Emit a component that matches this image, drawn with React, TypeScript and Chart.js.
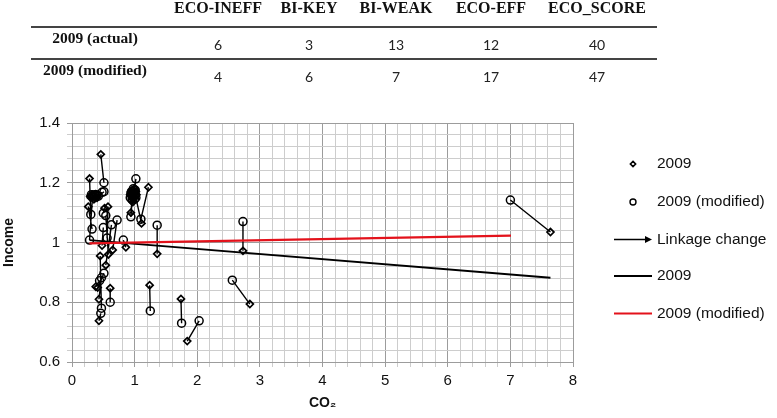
import React, { useEffect, useRef } from "react";
import { Chart, registerables } from "chart.js";

Chart.register(...registerables);

// Summary table
const tableColumns = ["ECO-INEFF", "BI-KEY", "BI-WEAK", "ECO-EFF", "ECO_SCORE"];
const tableRowLabels = ["2009 (actual)", "2009 (modified)"];
const actualCounts = [6, 3, 13, 12, 40];
const modifiedCounts = [4, 6, 7, 17, 47];

// Country positions: 2009 (actual) and 2009 (modified), index-matched pairs
const co2Actual = [
  0.46, 0.28, 0.26, 0.33, 0.575, 0.58, 0.48, 0.65, 0.86, 0.54,
  0.41, 0.43, 0.43, 0.61, 0.45, 0.38, 0.30, 0.38, 0.35, 0.40,
  0.52, 1.22, 1.11, 0.94, 0.97, 1.00, 0.93, 0.99, 0.96, 1.03,
  0.97, 1.36, 1.24, 1.74, 1.84, 2.73, 2.84, 7.64,
  0.95, 1.00, 0.96, 1.02, 0.98, 0.95, 0.32, 0.37, 0.29,
];
const incomeActual = [
  1.295, 1.214, 1.12, 1.158, 1.12, 0.96, 0.99, 0.975, 0.984, 0.924,
  0.849, 0.81, 0.738, 0.847, 0.955, 0.852, 1.15, 1.162, 1.145, 1.15,
  1.115, 1.185, 1.064, 1.1, 1.165, 1.18, 1.16, 1.15, 1.15, 1.16,
  1.135, 0.962, 0.857, 0.811, 0.67, 0.972, 0.794, 1.035,
  1.155, 1.165, 1.175, 1.17, 1.16, 1.14, 1.16, 1.15, 1.155,
];
const co2Modified = [
  0.51, 0.30, 0.32, 0.28, 0.56, 0.54, 0.50, 0.72, 0.82, 0.63,
  0.51, 0.47, 0.46, 0.61, 0.47, 0.44, 0.36, 0.42, 0.48, 0.51,
  0.50, 1.10, 1.02, 0.96, 0.94, 1.02, 0.95, 1.01, 0.98, 1.00,
  0.93, 1.36, 1.25, 1.75, 2.03, 2.73, 2.56, 7.00,
  0.97, 0.99, 0.94, 1.01, 1.00, 0.98, 0.34, 0.39, 0.31,
];
const incomeModified = [
  1.2, 1.094, 1.045, 1.008, 1.015, 1.09, 1.05, 1.075, 1.008, 1.059,
  0.897, 0.882, 0.763, 0.8, 0.78, 0.872, 1.16, 1.155, 1.168, 1.17,
  1.098, 1.078, 1.15, 1.145, 1.086, 1.213, 1.17, 1.175, 1.18, 1.145,
  1.15, 1.058, 0.771, 0.73, 0.738, 1.07, 0.874, 1.142,
  1.17, 1.155, 1.165, 1.16, 1.175, 1.15, 1.155, 1.16, 1.16,
];

// Fitted relationships
const trendActualCo2 = [0.28, 7.64];
const trendActualIncome = [1.008, 0.882];
const trendModifiedCo2 = [0.28, 7.01];
const trendModifiedIncome = [0.997, 1.023];

// Axis ranges
const xRange = [0, 8];
const yRange = [0.6, 1.4];

const SANS = '"Liberation Sans", Arial, Helvetica, sans-serif';
const SERIF = '"Liberation Serif", "Times New Roman", Times, serif';
const MAJOR_GRID = "#9c9c9c";
const MINOR_GRID = "#cdcdcd";

const isMajor = (v: number, step: number) =>
  Math.abs(v / step - Math.round(v / step)) < 1e-6;

const zip = (xs: number[], ys: number[]) => xs.map((x, i) => ({ x, y: ys[i] }));

// Segments joining each actual point to its modified counterpart
const linkageSegments = co2Actual.flatMap((x, i) => [
  { x, y: incomeActual[i] },
  { x: co2Modified[i], y: incomeModified[i] },
  { x: co2Modified[i], y: null as any },
]);

function drawDiamond(ctx: CanvasRenderingContext2D, x: number, y: number, r: number) {
  ctx.beginPath();
  ctx.moveTo(x, y - r);
  ctx.lineTo(x + r, y);
  ctx.lineTo(x, y + r);
  ctx.lineTo(x - r, y);
  ctx.closePath();
  ctx.lineWidth = 1.6;
  ctx.strokeStyle = "#000";
  ctx.stroke();
}

const sideLegend = {
  id: "sideLegend",
  afterDraw(chart: any) {
    const ctx: CanvasRenderingContext2D = chart.ctx;
    const rowsY = [164, 202, 239.5, 276, 313.5];
    const x0 = 614;
    const x1 = 652;
    const mid = 633;
    ctx.save();
    chart.data.datasets.forEach((ds: any, i: number) => {
      const y = rowsY[i];
      if (ds.legendKind === "diamond") {
        drawDiamond(ctx, mid, y, 2.6);
      } else if (ds.legendKind === "circle") {
        ctx.beginPath();
        ctx.arc(mid, y, 3, 0, Math.PI * 2);
        ctx.lineWidth = 1.4;
        ctx.strokeStyle = "#000";
        ctx.stroke();
      } else if (ds.legendKind === "arrow") {
        ctx.beginPath();
        ctx.moveTo(x0, y);
        ctx.lineTo(x1 - 5, y);
        ctx.lineWidth = 1.5;
        ctx.strokeStyle = "#000";
        ctx.stroke();
        ctx.beginPath();
        ctx.moveTo(x1, y);
        ctx.lineTo(x1 - 7, y - 3.5);
        ctx.lineTo(x1 - 7, y + 3.5);
        ctx.closePath();
        ctx.fillStyle = "#000";
        ctx.fill();
      } else {
        ctx.beginPath();
        ctx.moveTo(x0, y);
        ctx.lineTo(x1, y);
        ctx.lineWidth = ds.borderWidth;
        ctx.strokeStyle = ds.borderColor;
        ctx.stroke();
      }
      ctx.font = `15.5px ${SANS}`;
      ctx.fillStyle = "#111";
      ctx.textAlign = "left";
      ctx.textBaseline = "middle";
      ctx.fillText(ds.label, 657, y);
    });
    ctx.restore();
  },
};

const colX = [218, 309, 396, 491, 597];
const rowLabelX = 95;

const cell = (left: number, top: number, extra: React.CSSProperties): React.CSSProperties => ({
  position: "absolute",
  left,
  top,
  transform: "translate(-50%, -50%)",
  whiteSpace: "nowrap",
  lineHeight: 1,
  ...extra,
});

const headStyle: React.CSSProperties = {
  fontFamily: SERIF,
  fontWeight: "bold",
  fontSize: 16,
  color: "#111",
};
const rowHeadStyle: React.CSSProperties = {
  ...headStyle,
  fontSize: 15.5,
};
const valueStyle: React.CSSProperties = {
  fontFamily: 'Lato, "Liberation Sans", sans-serif',
  fontSize: 14,
  color: "#222",
};
const ruleStyle = (top: number): React.CSSProperties => ({
  position: "absolute",
  left: 31,
  width: 626,
  top,
  height: 1.5,
  background: "#444",
});

export default function App() {
  const canvasRef = useRef<HTMLCanvasElement>(null);

  useEffect(() => {
    document.body.style.margin = "0";
    const canvas = canvasRef.current;
    if (!canvas) return;

    const chart = new Chart(canvas, {
      type: "scatter",
      data: {
        datasets: [
          {
            label: "2009",
            legendKind: "diamond",
            data: zip(co2Actual, incomeActual),
            pointStyle: "rectRot",
            pointRadius: 3.5,
            pointBorderWidth: 1.7,
            pointBorderColor: "#000",
            pointBackgroundColor: "rgba(255,255,255,0)",
            showLine: false,
            order: 4,
          } as any,
          {
            label: "2009 (modified)",
            legendKind: "circle",
            data: zip(co2Modified, incomeModified),
            pointStyle: "circle",
            pointRadius: 4,
            pointBorderWidth: 1.5,
            pointBorderColor: "#000",
            pointBackgroundColor: "rgba(255,255,255,0)",
            showLine: false,
            order: 3,
          } as any,
          {
            label: "Linkage change",
            legendKind: "arrow",
            data: linkageSegments,
            showLine: true,
            spanGaps: false,
            pointRadius: 0,
            borderColor: "#000",
            borderWidth: 1.4,
            order: 5,
          } as any,
          {
            label: "2009",
            legendKind: "line",
            data: zip(trendActualCo2, trendActualIncome),
            showLine: true,
            pointRadius: 0,
            borderColor: "#000",
            borderWidth: 1.8,
            order: 2,
          } as any,
          {
            label: "2009 (modified)",
            legendKind: "line",
            data: zip(trendModifiedCo2, trendModifiedIncome),
            showLine: true,
            pointRadius: 0,
            borderColor: "#e3121b",
            borderWidth: 2.2,
            order: 1,
          } as any,
        ],
      },
      options: {
        responsive: false,
        animation: false,
        events: [],
        layout: { padding: { left: 0, top: 123, right: 204, bottom: 0 } },
        plugins: {
          legend: { display: false },
          tooltip: { enabled: false },
        },
        scales: {
          x: {
            type: "linear",
            min: xRange[0],
            max: xRange[1],
            afterFit: (scale: any) => {
              scale.height = 56;
            },
            ticks: {
              stepSize: 0.2,
              maxTicksLimit: 1000,
              autoSkip: false,
              maxRotation: 0,
              padding: 5,
              color: "#111",
              font: { family: SANS, size: 15 },
              callback: (v: any) => (isMajor(Number(v), 1) ? String(Math.round(Number(v))) : ""),
            },
            grid: {
              color: (c: any) => (c.tick && isMajor(c.tick.value, 1) ? MAJOR_GRID : MINOR_GRID),
              lineWidth: 1,
              tickLength: 5,
            },
            border: { color: MAJOR_GRID, width: 1 },
            title: {
              display: true,
              text: "CO₂",
              color: "#111",
              font: { family: SANS, size: 14, weight: "bold" },
              padding: { top: 0, bottom: 6 },
            },
          },
          y: {
            type: "linear",
            min: yRange[0],
            max: yRange[1],
            afterFit: (scale: any) => {
              scale.width = 72;
            },
            ticks: {
              stepSize: 0.04,
              maxTicksLimit: 1000,
              autoSkip: false,
              padding: 7,
              color: "#111",
              font: { family: SANS, size: 15 },
              callback: (v: any) =>
                isMajor(Number(v), 0.2) ? String(Math.round(Number(v) * 10) / 10) : "",
            },
            grid: {
              color: (c: any) => (c.tick && isMajor(c.tick.value, 0.2) ? MAJOR_GRID : MINOR_GRID),
              lineWidth: 1,
              tickLength: 5,
            },
            border: { color: MAJOR_GRID, width: 1 },
            title: {
              display: true,
              text: "Income",
              color: "#111",
              font: { family: SANS, size: 14, weight: "bold" },
              padding: { top: 1, bottom: 0 },
            },
          },
        },
      },
      plugins: [sideLegend],
    } as any);

    return () => chart.destroy();
  }, []);

  return (
    <div style={{ position: "relative", width: 777, height: 418, background: "#fff", overflow: "hidden" }}>
      <canvas
        ref={canvasRef}
        width={777}
        height={418}
        style={{ position: "absolute", left: 0, top: 0, width: 777, height: 418 }}
      />
      {tableColumns.map((c, i) => (
        <span key={"h" + i} style={cell(colX[i], 8, headStyle)}>
          {c}
        </span>
      ))}
      <div style={ruleStyle(26)} />
      <span style={cell(rowLabelX, 38, rowHeadStyle)}>{tableRowLabels[0]}</span>
      {actualCounts.map((v, i) => (
        <span key={"a" + i} style={cell(colX[i], 45, valueStyle)}>
          {v}
        </span>
      ))}
      <div style={ruleStyle(58)} />
      <span style={cell(rowLabelX, 70, rowHeadStyle)}>{tableRowLabels[1]}</span>
      {modifiedCounts.map((v, i) => (
        <span key={"m" + i} style={cell(colX[i], 77, valueStyle)}>
          {v}
        </span>
      ))}
    </div>
  );
}
